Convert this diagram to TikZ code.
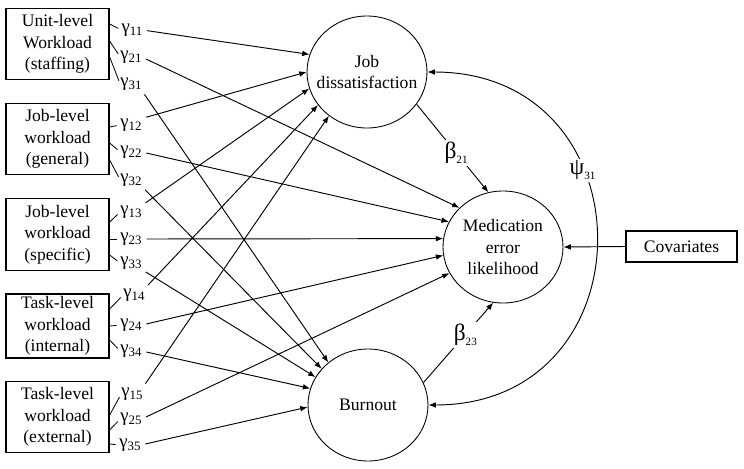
\documentclass[tikz,border=0pt]{standalone}
\usepackage{fontspec}
\setmainfont{Liberation Serif}
\usetikzlibrary{shapes.geometric,arrows.meta}

\newcommand{\gam}[1]{{\fontsize{16}{16}\selectfont γ}\raisebox{-3pt}{\fontsize{11}{11}\selectfont #1}}
\newcommand{\bigcoef}[2]{{\fontsize{20}{20}\selectfont #1}\raisebox{-4pt}{\fontsize{9.5}{9.5}\selectfont #2}}

\begin{document}
\begin{tikzpicture}[x=0.03cm, y=-0.03cm,
        wl/.style={draw, line width=1.1pt, minimum width=3.09cm, minimum height=2.15cm,
            align=center, inner sep=2pt, font=\fontsize{15}{18.3}\selectfont},
        lat/.style={draw, ellipse, line width=0.75pt, minimum width=3.6cm, minimum height=3.36cm,
            inner sep=0pt},
        txt/.style={align=center, font=\fontsize{15}{18.3}\selectfont},
        coef/.style={inner sep=0pt},
        tick/.style={line width=0.7pt, shorten >=3pt},
        eff/.style={line width=0.8pt, shorten <=4pt, -{Latex[length=2.2mm, width=1.7mm]}},
        cut/.style={fill=white, inner sep=2pt}]
            \useasboundingbox (0,0) rectangle (744,469);

            %% workload boxes
            \node[wl] (unit) at (57.5,44) {Unit-level\\Workload\\(staffing)};
            \node[wl] (jobgen) at (57.5,139) {Job-level\\workload\\(general)};
            \node[wl] (jobspec) at (57.5,234.5) {Job-level\\workload\\(specific)};
            \node[wl, minimum height=1.92cm] (taskint) at (57.5,326) {Task-level\\workload\\(internal)};
            \node[wl] (taskext) at (57.5,417) {Task-level\\workload\\(external)};

            %% outcomes
            \node[lat, label={[txt]center:Job\\dissatisfaction}] (jobdis) at (367,72) {};
            \node[lat, label={[txt]center:Medication\\error\\likelihood}] (mederr) at (503,247) {};
            \node[lat, label={[txt]center:Burnout}] (burnout) at (368,405) {};
            \node[wl, minimum width=3.33cm, minimum height=0.93cm] (cov) at (681.5,246.5) {Covariates};

            %% gammas
            \node[coef] (g11) at (132,30) {\gam{11}};
            \node[coef] (g21) at (131,57) {\gam{21}};
            \node[coef] (g31) at (131,84) {\gam{31}};
            \node[coef] (g12) at (131,125) {\gam{12}};
            \node[coef] (g22) at (131,152) {\gam{22}};
            \node[coef] (g32) at (131,180) {\gam{32}};
            \node[coef] (g13) at (131,212) {\gam{13}};
            \node[coef] (g23) at (131,239) {\gam{23}};
            \node[coef] (g33) at (131,263) {\gam{33}};
            \node[coef] (g14) at (134,295) {\gam{14}};
            \node[coef] (g24) at (131,325) {\gam{24}};
            \node[coef] (g34) at (131,351) {\gam{34}};
            \node[coef] (g15) at (132,394) {\gam{15}};
            \node[coef] (g25) at (131,419) {\gam{25}};
            \node[coef] (g35) at (130,445) {\gam{35}};

            %% ticks
            \draw[tick] ([yshift=0.6cm]unit.east) to (g11.west);
            \draw[tick] ([yshift=0.09cm]unit.east) to (g21.west);
            \draw[tick] ([yshift=-0.39cm]unit.east) to (g31.west);
            \draw[tick] ([yshift=0.36cm]jobgen.east) to (g12.west);
            \draw[tick] ([yshift=-0.12cm]jobgen.east) to (g22.west);
            \draw[tick] ([yshift=-0.63cm]jobgen.east) to (g32.west);
            \draw[tick] ([yshift=0.375cm]jobspec.east) to (g13.west);
            \draw[tick] ([yshift=-0.135cm]jobspec.east) to (g23.west);
            \draw[tick] ([yshift=-0.615cm]jobspec.east) to (g33.west);
            \draw[tick] ([yshift=0.51cm]taskint.east) to (g14.west);
            \draw[tick] (taskint.east) to (g24.west);
            \draw[tick] ([yshift=-0.42cm]taskint.east) to (g34.west);
            \draw[tick] ([yshift=0.06cm]taskext.east) to (g15.west);
            \draw[tick] ([yshift=-0.39cm]taskext.east) to (g25.west);
            \draw[tick] ([yshift=-0.81cm]taskext.east) to (g35.west);

            %% to job dissatisfaction
            \draw[eff] (g11.east) to (jobdis.163);
            \draw[eff] (g12.north east) to (jobdis.180);
            \draw[eff] (g13.north east) to (jobdis.196);
            \draw[eff] (g14.north east) to (jobdis.214);
            \draw[eff] (g15.north east) to (jobdis.229);

            %% to medication error
            \draw[eff] (g21.east) to (mederr.138);
            \draw[eff] (g22.east) to (mederr.155);
            \draw[eff] (g23.east) to (mederr.172);
            \draw[eff] (g24.east) to (mederr.188);
            \draw[eff] (g25.east) to (mederr.206);

            %% to burnout
            \draw[eff] (g31.south east) to (burnout.133);
            \draw[eff] (g32.south east) to (burnout.142);
            \draw[eff] (g33.south east) to (burnout.152);
            \draw[eff] (g34.east) to (burnout.164);
            \draw[eff] (g35.east) to (burnout.182);

            %% betas, psi, covariates
            \draw[eff, shorten <=0pt] (jobdis.-33) to node[cut, pos=0.55] (b21) {\bigcoef{β}{21}} (mederr.105);
            \draw[eff, shorten <=0pt] (burnout.22) to node[cut, pos=0.6] (b23) {\bigcoef{β}{23}} (mederr.-100);
            \draw[eff, shorten <=0pt, {Latex[length=2.2mm, width=1.7mm]}-{Latex[length=2.2mm, width=1.7mm]}]
                (jobdis.east) .. controls +(224,0) and +(224,0) .. node[cut, pos=0.36] (p31) {\bigcoef{ψ}{31}} (burnout.east);
            \draw[eff, shorten <=0pt] (cov.west) to (mederr.east);

        \end{tikzpicture}
\end{document}
